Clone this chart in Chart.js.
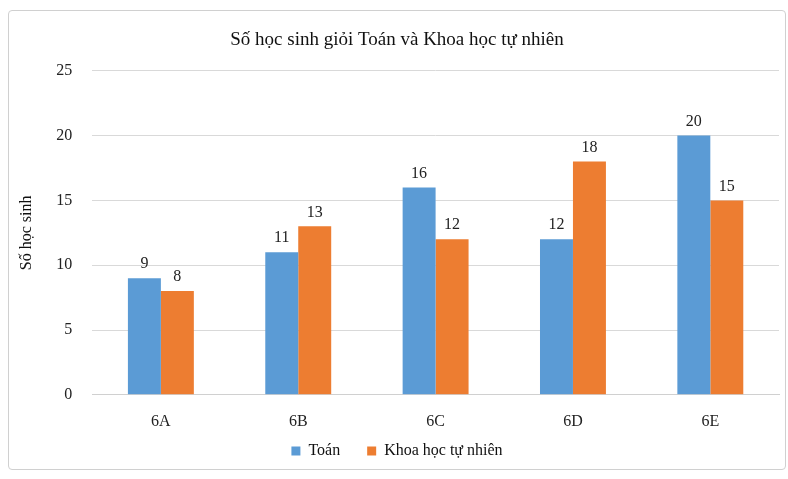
<!DOCTYPE html>
<html>
<head>
<meta charset="utf-8">
<script src="https://cdn.jsdelivr.net/npm/chart.js@4"></script>
<style>
  body { margin: 0; background: #fff; }
  #box {
    position: absolute; left: 8px; top: 10px; width: 778px; height: 460px;
    border: 1px solid #d0d0d0; border-radius: 4px; box-sizing: border-box;
  }
</style>
</head>
<body>
<div id="box"><canvas id="myChart"></canvas></div>
<script>
const classes = ['6A', '6B', '6C', '6D', '6E'];
const toan = [9, 11, 16, 12, 20];
const khtn = [8, 13, 12, 18, 15];
const yTicks = [0, 5, 10, 15, 20, 25];

const serif = '"Liberation Serif", "Times New Roman", serif';

// draws the value above each bar
const valueLabels = {
  id: 'valueLabels',
  afterDatasetsDraw(chart) {
    const c = chart.ctx;
    c.save();
    c.font = '16px ' + serif;
    c.fillStyle = '#222';
    c.textAlign = 'center';
    c.textBaseline = 'bottom';
    chart.data.datasets.forEach((ds, i) => {
      chart.getDatasetMeta(i).data.forEach((bar, j) => {
        c.fillText(ds.data[j], bar.x, bar.y - 6);
      });
    });
    c.restore();
  }
};

const ctx = document.getElementById('myChart');
ctx.width = 776;
ctx.height = 458;

const chrt = new Chart(ctx, {
  type: 'bar',
  data: {
    labels: classes,
    datasets: [
      {
        label: 'Toán',
        data: toan,
        backgroundColor: '#5B9BD5',
        categoryPercentage: 0.48,
        barPercentage: 1
      },
      {
        label: 'Khoa học tự nhiên',
        data: khtn,
        backgroundColor: '#ED7D31',
        categoryPercentage: 0.48,
        barPercentage: 1
      }
    ]
  },
  options: {
    responsive: false,
    animation: false,
    layout: { padding: { left: 6, right: 6, top: 6, bottom: 0 } },
    plugins: {
      title: {
        display: true,
        text: 'Số học sinh giỏi Toán và Khoa học tự nhiên',
        color: '#111',
        font: { family: serif, size: 19, weight: 'normal' },
        padding: { top: 12, bottom: 19 }
      },
      legend: {
        position: 'bottom',
        labels: {
          color: '#111',
          font: { family: serif, size: 16 },
          boxWidth: 9,
          boxHeight: 9,
          padding: 3,
          generateLabels(chart) {
            const items = Chart.defaults.plugins.legend.labels.generateLabels(chart);
            items[0].text = items[0].text + '      ';
            return items;
          }
        }
      },
      tooltip: { enabled: false }
    },
    scales: {
      x: {
        grid: { display: false },
        border: { display: true, color: '#d0d0d0' },
        ticks: { color: '#222', font: { family: serif, size: 16 }, padding: 9 }
      },
      y: {
        min: 0,
        max: 25,
        afterBuildTicks(axis) { axis.ticks = yTicks.map(v => ({ value: v })); },
        grid: { color: '#d9d9d9', drawTicks: false },
        border: { display: false },
        ticks: { color: '#222', font: { family: serif, size: 16 }, padding: 20 },
        title: {
          display: true,
          text: 'Số học sinh',
          color: '#111',
          font: { family: serif, size: 16 },
          padding: { top: 2, bottom: 0 }
        }
      }
    }
  },
  plugins: [valueLabels]
});

console.log(chrt);
</script>
</body>
</html>
